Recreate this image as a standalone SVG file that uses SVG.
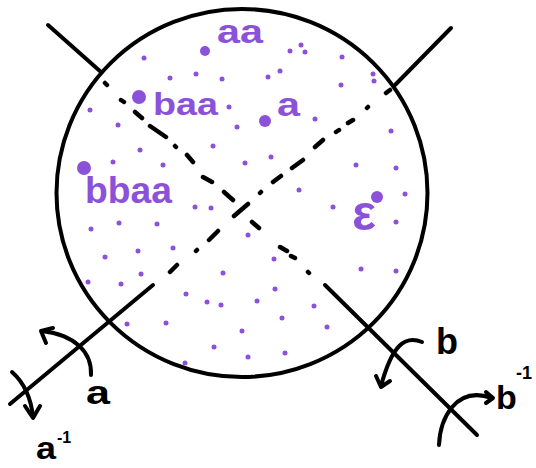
<svg xmlns="http://www.w3.org/2000/svg" width="536" height="468" viewBox="0 0 536 468">
<style>
.ln{fill:none;stroke:#000;stroke-width:4;stroke-linecap:round;stroke-linejoin:round}
.dd{fill:none;stroke:#000;stroke-width:4.5;stroke-linecap:round}
.pt{fill:#8b52d9}
.pl{font-family:"Liberation Sans",Arial,sans-serif;font-weight:bold;fill:#8b52d9}
.bl{font-family:"Liberation Sans",Arial,sans-serif;font-weight:bold;fill:#000}
</style>
<rect width="536" height="468" fill="#fff"/>
<g id="circle">
<ellipse cx="242" cy="193" rx="185.5" ry="184" class="ln"/>
</g>
<g id="connectors">
<path class="ln" d="M48,25 L101,72"/>
<path class="ln" d="M451,28 L395,85"/>
<path class="ln" d="M325,285 L477,435"/>
<path class="ln" d="M153,285 L10,404"/>
<path class="dd" d="M105,83 L107,85 M121,100 L124,102 M135,112 L142,118 M150,126 L166,137 M175,146 L176,147 M187,155 L193,162 M203,177 L212,182 M224,192 L233,200 M252,222 L259,228 M280,247 L287,251 M291,256 L295,258 M308,272 L309,273"/>
<path class="dd" d="M386,93 L390,90 M367,108 L368,107 M348,123 L353,120 M336,132 L339,130 M315,147 L323,140 M292,168 L303,160 M273,182 L281,176 M260,193 L261,192 M234,216 L248,204 M209,240 L218,231 M196,251 L197,250 M170,272 L177,265"/>
<path class="ln" d="M91,375 C92,352 75,335 42,331"/>
<path class="ln" d="M53,328 L41,331 L46,343"/>
<path class="ln" d="M12,372 Q30,388 33,417"/>
<path class="ln" d="M25,406 L33,418 L40,406"/>
<path class="ln" d="M422,342 C405,335 392,345 381,386"/>
<path class="ln" d="M376,376 L381,387 L390,381"/>
<path class="ln" d="M439,445 C440,420 455,385 492,398"/>
<path class="ln" d="M486,392 L493,398 L486,403"/>
</g>
<g id="labels-black">
<text class="bl" x="86" y="404" font-size="34" textLength="24" lengthAdjust="spacingAndGlyphs">a</text>
<text class="bl" x="36" y="459" font-size="32" textLength="20" lengthAdjust="spacingAndGlyphs">a</text>
<text class="bl" x="57" y="443" font-size="16">-1</text>
<text class="bl" x="436" y="354" font-size="36">b</text>
<text class="bl" x="496" y="409" font-size="34">b</text>
<text class="bl" x="516" y="379" font-size="18">-1</text>
</g>
<g id="node-aa">
<circle class="pt" cx="205" cy="51" r="5"/>
<text class="pl" x="217" y="43" font-size="34" textLength="46" lengthAdjust="spacingAndGlyphs">aa</text>
</g>
<g id="node-baa">
<circle class="pt" cx="139" cy="97" r="7"/>
<text class="pl" x="153" y="115" font-size="31" textLength="65" lengthAdjust="spacingAndGlyphs">baa</text>
</g>
<g id="node-a">
<circle class="pt" cx="265" cy="121" r="6"/>
<text class="pl" x="277" y="116" font-size="34" textLength="23" lengthAdjust="spacingAndGlyphs">a</text>
</g>
<g id="node-bbaa">
<circle class="pt" cx="84" cy="168" r="7"/>
<text class="pl" x="85" y="203" font-size="36" textLength="87" lengthAdjust="spacingAndGlyphs">bbaa</text>
</g>
<g id="node-epsilon">
<circle class="pt" cx="377" cy="197" r="6"/>
<text class="pl" x="352" y="230" font-size="50" textLength="24" lengthAdjust="spacingAndGlyphs">ε</text>
</g>
<g id="dots" class="pt">
<circle cx="144" cy="58" r="2.5"/><circle cx="170" cy="78" r="2.5"/><circle cx="196" cy="74" r="2.5"/><circle cx="222" cy="79" r="2.5"/>
<circle cx="90" cy="110" r="2.5"/><circle cx="118" cy="125" r="2.5"/><circle cx="140" cy="150" r="2.5"/><circle cx="113" cy="162" r="2.5"/>
<circle cx="163" cy="165" r="2.5"/><circle cx="229" cy="107" r="2.5"/><circle cx="237" cy="127" r="2.5"/><circle cx="213" cy="146" r="2.5"/>
<circle cx="245" cy="163" r="2.5"/><circle cx="271" cy="157" r="2.5"/><circle cx="290" cy="51" r="2.5"/><circle cx="301" cy="45" r="2.5"/>
<circle cx="305" cy="52" r="2.5"/><circle cx="268" cy="77" r="2.5"/><circle cx="280" cy="71" r="2.5"/><circle cx="195" cy="207" r="2.5"/>
<circle cx="211" cy="208" r="2.5"/><circle cx="299" cy="190" r="2.5"/><circle cx="342" cy="57" r="2.5"/><circle cx="373" cy="74" r="2.5"/>
<circle cx="374" cy="81" r="2.5"/><circle cx="341" cy="85" r="2.5"/><circle cx="315" cy="119" r="2.5"/><circle cx="391" cy="131" r="2.5"/>
<circle cx="356" cy="165" r="2.5"/><circle cx="396" cy="168" r="2.5"/><circle cx="405" cy="194" r="2.5"/><circle cx="333" cy="207" r="2.5"/>
<circle cx="396" cy="222" r="2.5"/><circle cx="248" cy="235" r="2.5"/><circle cx="274" cy="259" r="2.5"/><circle cx="223" cy="273" r="2.5"/>
<circle cx="361" cy="269" r="2.5"/><circle cx="396" cy="271" r="2.5"/><circle cx="275" cy="289" r="2.5"/><circle cx="91" cy="229" r="2.5"/>
<circle cx="119" cy="223" r="2.5"/><circle cx="157" cy="224" r="2.5"/><circle cx="105" cy="257" r="2.5"/><circle cx="138" cy="251" r="2.5"/>
<circle cx="173" cy="248" r="2.5"/><circle cx="88" cy="282" r="2.5"/><circle cx="121" cy="284" r="2.5"/><circle cx="141" cy="274" r="2.5"/>
<circle cx="186" cy="294" r="2.5"/><circle cx="207" cy="302" r="2.5"/><circle cx="221" cy="305" r="2.5"/><circle cx="127" cy="324" r="2.5"/>
<circle cx="166" cy="323" r="2.5"/><circle cx="242" cy="331" r="2.5"/><circle cx="214" cy="347" r="2.5"/><circle cx="248" cy="357" r="2.5"/>
<circle cx="185" cy="363" r="2.5"/><circle cx="257" cy="301" r="2.5"/><circle cx="314" cy="306" r="2.5"/><circle cx="282" cy="318" r="2.5"/>
<circle cx="327" cy="327" r="2.5"/><circle cx="285" cy="353" r="2.5"/>
</g>
</svg>
